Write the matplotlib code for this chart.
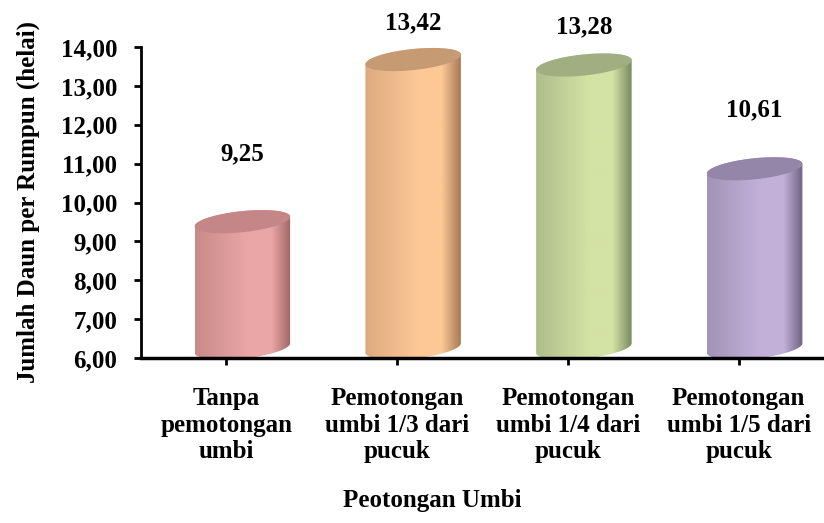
import numpy as np
import matplotlib
matplotlib.use('Agg')
import matplotlib.pyplot as plt
from matplotlib.colors import LinearSegmentedColormap
from matplotlib.patches import PathPatch, Polygon
from matplotlib.path import Path

# Data
categories = ['Tanpa\npemotongan\numbi',
              'Pemotongan\numbi 1/3 dari\npucuk',
              'Pemotongan\numbi 1/4 dari\npucuk',
              'Pemotongan\numbi 1/5 dari\npucuk']
values = [9.25, 13.42, 13.28, 10.61]
y_ticks = [6, 7, 8, 9, 10, 11, 12, 13, 14]

# Shading per cylinder: left edge, highlight, right edge, top cap
shades = [
    ('#C88A8A', '#EAA6A6', '#9E6666', '#C48686'),
    ('#DDAA80', '#FDC896', '#A67A55', '#C69A72'),
    ('#AEBD8C', '#D3E3A4', '#7A885F', '#A0AE82'),
    ('#A194B5', '#C2B0D9', '#6E6382', '#9486A8'),
]
label_pad = [78, 47, 48, 69]   # px above bar top for the value text

FONT = 'Liberation Serif'
FS = 18

# cylinder geometry, in pixels
RA, RB = 48.0, 10.5
TILT = np.radians(6)
DEPTH = np.array([16.0, 10.0])


def fmt(v):
    return f'{v:.2f}'.replace('.', ',')


def ellipse(c, t):
    ca, sa = np.cos(TILT), np.sin(TILT)
    x = c[0] + RA * np.cos(t) * ca - RB * np.sin(t) * sa
    y = c[1] + RA * np.cos(t) * sa + RB * np.sin(t) * ca
    return np.column_stack([x, y])


def draw_cylinder(ax, i, value, colors):
    tr = ax.transData
    inv = tr.inverted()
    bottom = tr.transform((i, 6.0)) + DEPTH
    top = tr.transform((i, value)) + DEPTH

    top_arc = ellipse(top, np.linspace(np.pi, 0, 80))
    bot_arc = ellipse(bottom, np.linspace(0, -np.pi, 80))
    body = inv.transform(np.vstack([top_arc, bot_arc]))
    patch = PathPatch(Path(np.vstack([body, body[:1]]), closed=True),
                      facecolor='none', edgecolor='none')
    ax.add_patch(patch)

    cmap = LinearSegmentedColormap.from_list(
        'cyl', [(0, colors[0]), (0.55, colors[1]), (0.8, colors[1]), (1, colors[2])])
    grad = np.linspace(0, 1, 256)[None, :]
    x0, x1 = body[:, 0].min(), body[:, 0].max()
    y0, y1 = body[:, 1].min(), body[:, 1].max()
    im = ax.imshow(grad, cmap=cmap, extent=[x0, x1, y0, y1],
                   aspect='auto', origin='lower', zorder=2,
                   interpolation='bilinear')
    im.set_clip_path(patch)

    cap = inv.transform(ellipse(top, np.linspace(0, 2 * np.pi, 160)))
    ax.add_patch(Polygon(cap, closed=True, facecolor=colors[3],
                         edgecolor='none', zorder=3))


fig = plt.figure(figsize=(8.24, 5.23), dpi=100)
W, H = 824, 523
px_unit = (358 - 47) / 8.0
y_top = 14.8
ax = fig.add_axes([141 / W, 1 - 358 / H, 1 - 141 / W,
                   (y_top - 6) * px_unit / H])
ax.set_xlim(-0.5, 3.5)
ax.set_ylim(6, y_top)

for i, v in enumerate(values):
    draw_cylinder(ax, i, v, shades[i])
    ax.annotate(fmt(v), xy=(i, v), xytext=(DEPTH[0], label_pad[i]),
                textcoords='offset pixels', ha='center', va='center',
                fontsize=FS, fontweight='bold', fontfamily=FONT,
                annotation_clip=False)

ax.set_xlim(-0.5, 3.5)
ax.set_ylim(6, y_top)

ax.spines['top'].set_visible(False)
ax.spines['right'].set_visible(False)
ax.spines['left'].set_bounds(6, 14)
ax.spines['left'].set_linewidth(2)
ax.spines['bottom'].set_linewidth(2.5)

ax.set_yticks(y_ticks)
ax.set_yticklabels([fmt(t) for t in y_ticks])
ax.set_xticks(range(len(categories)))
ax.set_xticklabels(categories, linespacing=1.2)
ax.tick_params(axis='both', width=2, length=5, direction='out')
ax.tick_params(axis='x', pad=16)
ax.tick_params(axis='y', pad=12)
for lab in ax.get_xticklabels() + ax.get_yticklabels():
    lab.set_fontfamily(FONT)
    lab.set_fontweight('bold')
    lab.set_fontsize(FS)

fig.text(28 / W, 1 - 202 / H, 'Jumlah Daun per Rumpun (helai)', rotation=90,
         ha='center', va='center', fontsize=FS, fontweight='bold', fontfamily=FONT)
fig.text(432 / W, 1 - 500 / H, 'Peotongan Umbi', ha='center', va='center',
         fontsize=FS, fontweight='bold', fontfamily=FONT)

fig.savefig('out.png', dpi=100)
